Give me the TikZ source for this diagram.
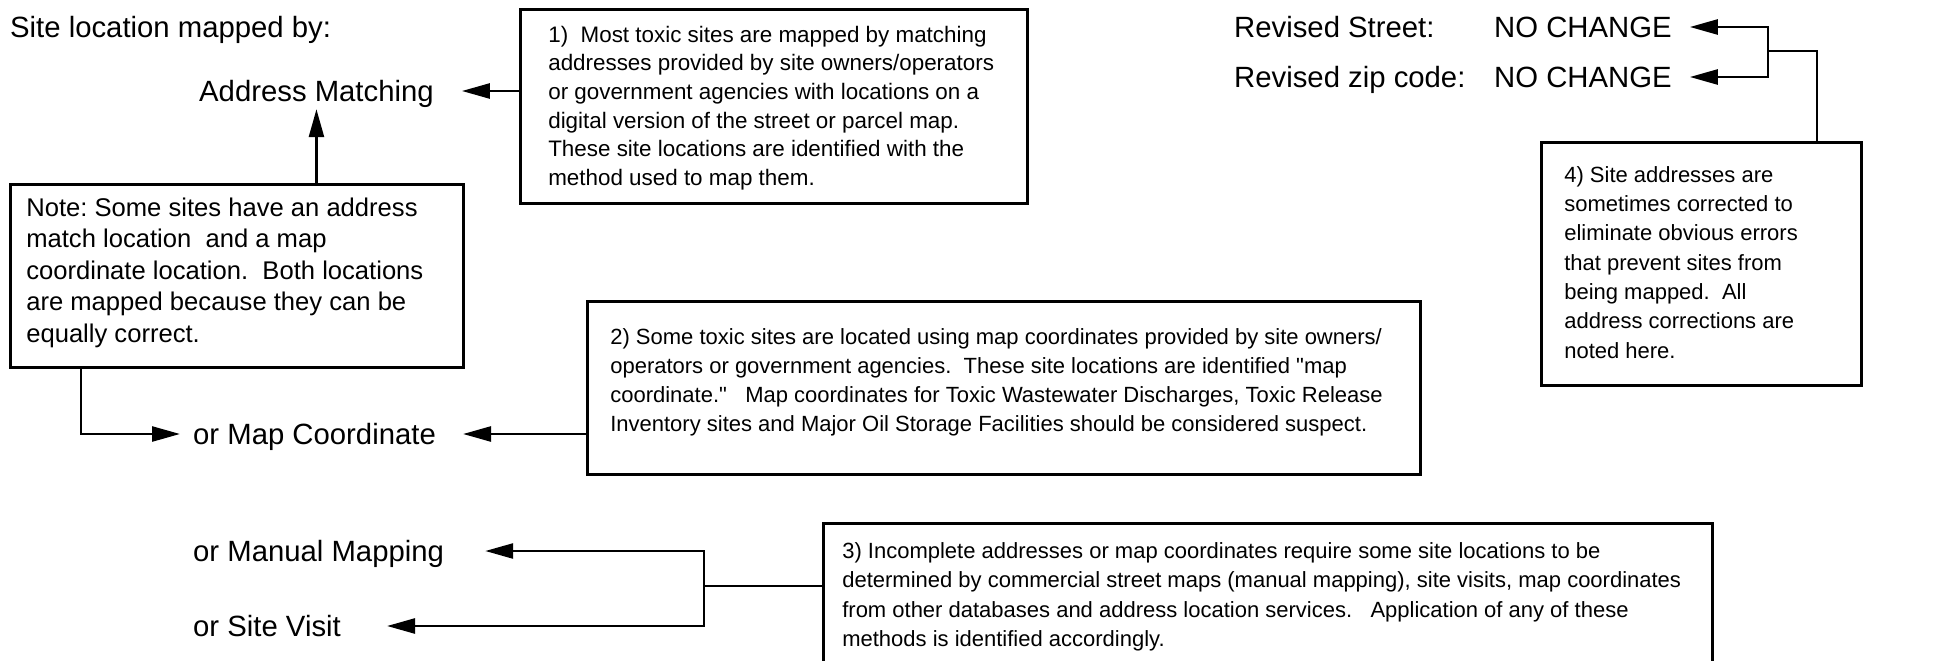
\documentclass[tikz,border=0pt]{standalone}
\usepackage{fontspec}
\setmainfont{Liberation Sans}
\newfontfamily\lib{Liberation Sans}
\usetikzlibrary{arrows.meta}
\newcommand{\boxtxt}[4]{\parbox[t][#2][t]{#1}{\lib\frenchspacing#3\raggedright\leavevmode\vrule width 0pt height 0.7\baselineskip #4}}
\tikzset{
  lbl/.style={inner sep=0pt, anchor=west, font=\lib\fontsize{29.3}{35}\selectfont, text height=21pt, text depth=0pt},
  tbox/.style={draw, line width=2.6pt, anchor=north west},
  conn/.style={line width=2.6pt, line cap=rect},
  arr/.style={line width=2.6pt, -{Triangle[length=28pt,width=15pt]}},
}
\begin{document}
\begin{tikzpicture}[x=1pt,y=-1pt]
\useasboundingbox (0,0) rectangle (1947,661);
% labels
\node[lbl] (title) at (10,27.5) {Site location mapped by:};
\node[lbl] (am) at (199,91) {Address Matching};
\node[lbl] (mc) at (193,434) {or Map Coordinate};
\node[lbl] (mm) at (193,551) {or Manual Mapping};
\node[lbl] (sv) at (193,626) {or Site Visit};
\node[lbl] (rs) at (1234,27) {Revised Street:};
\node[lbl] (rz) at (1234,77) {Revised zip code:};
\node[lbl] (nc1) at (1494,27) {NO CHANGE};
\node[lbl] (nc2) at (1494,77) {NO CHANGE};
% boxes
\node[tbox, inner xsep=28pt, inner ysep=13pt] (b1) at (519,8) {\boxtxt{451pt}{168pt}{\fontsize{22.4}{28.6}\selectfont}{1)\ \ Most toxic sites are mapped by matching\\
addresses provided by site owners/operators\\
or government agencies with locations on a\\
digital version of the street or parcel map.\\
These site locations are identified with the\\
method used to map them.}};
\node[tbox, inner xsep=16pt, inner ysep=10pt] (note) at (9,183) {\boxtxt{421pt}{163pt}{\fontsize{25.6}{31.5}\selectfont}{Note: Some sites have an address\\
match location\ \ and a map\\
coordinate location.\ \ Both locations\\
are mapped because they can be\\
equally correct.}};
\node[tbox, inner xsep=23pt, inner ysep=22.7pt] (b2) at (586,300) {\boxtxt{787pt}{127.6pt}{\fontsize{22}{29}\selectfont}{2) Some toxic sites are located using map coordinates provided by site owners/\\
operators or government agencies.\ \ These site locations are identified "map\\
coordinate."\ \ \ Map coordinates for Toxic Wastewater Discharges, Toxic Release\\
Inventory sites and Major Oil Storage Facilities should be considered suspect.}};
\node[tbox, inner xsep=19pt, inner ysep=14.4pt] (b3) at (822,522) {\boxtxt{851pt}{129.2pt}{\fontsize{22}{29.5}\selectfont}{3) Incomplete addresses or map coordinates require some site locations to be\\
determined by commercial street maps (manual mapping), site visits, map coordinates\\
from other databases and address location services.\ \ \ Application of any of these\\
methods is identified accordingly.}};
\node[tbox, inner xsep=23pt, inner ysep=19.5pt] (b4) at (1540,141) {\boxtxt{274pt}{204pt}{\fontsize{22}{29.3}\selectfont}{4) Site addresses are\\
sometimes corrected to\\
eliminate obvious errors\\
that prevent sites from\\
being mapped.\ \ All\\
address corrections are\\
noted here.}};
% connectors
\draw[arr, shorten >=28pt] (am -| b1.west) -- (am.east);
\draw[arr, shorten >=7.5pt] (note.north -| am) -- (am.south);
\draw[arr, shorten >=13pt] ([xshift=72pt]note.south west) |- (mc.west);
\draw[arr, shorten >=27pt] (mc -| b2.west) -- (mc.east);
\coordinate (j3) at (704,586);
\draw[conn] (j3 -| b3.west) -- (j3);
\draw[conn] (j3 |- mm) -- (j3 |- sv);
\draw[arr, shorten >=41pt] (j3 |- mm) -- (mm.east);
\draw[arr, shorten >=46pt] (j3 |- sv) -- (sv.east);
\coordinate (j4) at (1768,51);
\draw[conn] ([xshift=277pt]b4.north west) |- (j4);
\draw[conn] (j4 |- nc1) -- (j4 |- nc2);
\draw[arr, shorten >=18pt] (j4 |- nc1) -- (nc1.east);
\draw[arr, shorten >=18pt] (j4 |- nc2) -- (nc2.east);
\end{tikzpicture}
\end{document}
